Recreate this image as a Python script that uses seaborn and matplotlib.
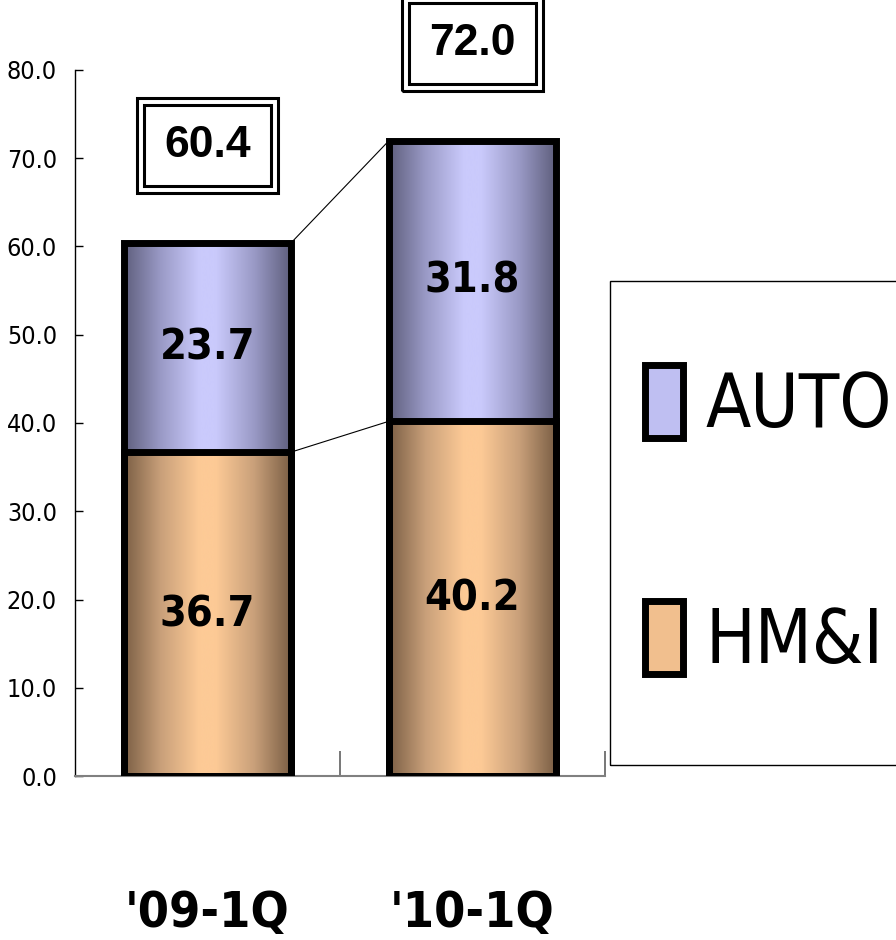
import numpy as np
import pandas as pd
import matplotlib
matplotlib.use("Agg")
import matplotlib.pyplot as plt
import seaborn as sns
from matplotlib.colors import LinearSegmentedColormap
from matplotlib.patches import Patch, Rectangle
from matplotlib.transforms import IdentityTransform

# ---------------- data ----------------
categories = ["'09-1Q", "'10-1Q"]
hmi_values = [36.7, 40.2]
auto_values = [23.7, 31.8]
total_values = [60.4, 72.0]
series_labels = ["AUTO", "HM&I"]
y_ticks = [0, 10, 20, 30, 40, 50, 60, 70, 80]
y_tick_labels = ["0.0", "10.0", "20.0", "30.0", "40.0", "50.0", "60.0", "70.0", "80.0"]

# ---------------- style ----------------
sns.set_theme(style="white")
plt.rcParams["font.family"] = ["DejaVu Sans"]
plt.rcParams["font.stretch"] = "condensed"
for k in ["text.color", "axes.labelcolor", "xtick.color", "ytick.color"]:
    plt.rcParams[k] = "black"

W, H = 896, 940
fig = plt.figure(figsize=(W / 100, H / 100), dpi=100)
ax = fig.add_axes([75 / W, 1 - 776 / H, 530 / W, 706 / H])

df = pd.DataFrame({"cat": categories, "HM&I": hmi_values,
                   "AUTO": auto_values, "total": total_values})

bar_w = 0.63
edge_lw = 5
# full stack (AUTO colour) then HM&I on top
sns.barplot(data=df, x="cat", y="total", ax=ax, width=bar_w, color="#cacafc",
            edgecolor="black", linewidth=edge_lw, zorder=3)
sns.barplot(data=df, x="cat", y="HM&I", ax=ax, width=bar_w, color="#fdca96",
            edgecolor="black", linewidth=edge_lw, zorder=3)

total_patches = ax.patches[:2]
hmi_patches = ax.patches[2:4]

cm_blue = LinearSegmentedColormap.from_list(
    "b", [(0, "#5f5f7d"), (0.22, "#9a9ac6"), (0.45, "#cacafc"),
          (0.55, "#cacafc"), (0.78, "#9a9ac6"), (1, "#5f5f7d")])
cm_orange = LinearSegmentedColormap.from_list(
    "o", [(0, "#7b5f45"), (0.22, "#c9a07a"), (0.45, "#fdca96"),
          (0.55, "#fdca96"), (0.78, "#c9a07a"), (1, "#7b5f45")])
grad = np.linspace(0, 1, 256).reshape(1, -1)

for patches, cmap, z in [(total_patches, cm_blue, 1), (hmi_patches, cm_orange, 2)]:
    for p in patches:
        x0, y0 = p.get_x(), p.get_y()
        w, h = p.get_width(), p.get_height()
        im = ax.imshow(grad, cmap=cmap, aspect="auto",
                       extent=[x0, x0 + w, y0, y0 + h], zorder=z, interpolation="bicubic")
        im.set_clip_path(p)
        p.set_facecolor("none")

ax.set_xlim(-0.5, 1.5)
ax.set_ylim(0, 80)

# segment labels
seg_kw = dict(ha="center", va="center", fontsize=31, fontweight="bold",
              color="black", zorder=5, fontstretch="condensed")
for i, p in enumerate(hmi_patches):
    cx = p.get_x() + p.get_width() / 2
    ax.text(cx, hmi_values[i] / 2, f"{hmi_values[i]:.1f}", **seg_kw)
    ax.text(cx, hmi_values[i] + auto_values[i] / 2, f"{auto_values[i]:.1f}", **seg_kw)

# connector lines
p0, p1 = total_patches
ax.plot([p0.get_x() + p0.get_width(), p1.get_x()], [total_values[0], total_values[1]],
        color="black", lw=0.8, zorder=4)
ax.plot([p0.get_x() + p0.get_width(), p1.get_x()], [hmi_values[0], hmi_values[1]],
        color="black", lw=0.8, zorder=4)

# total labels with double border
total_texts = []
for i, p in enumerate(total_patches):
    cx = p.get_x() + p.get_width() / 2
    t = ax.annotate(f"{total_values[i]:.1f}", xy=(cx, total_values[i]), xytext=(0, 70),
                    textcoords="offset points", ha="center", va="center",
                    fontsize=32, fontweight="bold", family=["Liberation Sans", "DejaVu Sans"],
                    fontstretch="normal",
                    color="black", annotation_clip=False, zorder=6,
                    bbox=dict(boxstyle="square,pad=0.45", fc="white", ec="black", lw=2.2))
    total_texts.append(t)

# axes styling
sns.despine(ax=ax, top=True, right=True)
ax.spines["left"].set_color("black")
ax.spines["left"].set_linewidth(1.0)
ax.spines["bottom"].set_color("#808080")
ax.spines["bottom"].set_linewidth(1.5)
ax.set_yticks(y_ticks)
ax.set_yticklabels(y_tick_labels, fontstretch="condensed")
ax.tick_params(axis="y", direction="in", length=6, width=1, color="black",
               labelsize=18, pad=13, left=True, labelcolor="black")
ax.set_xticks([0, 1])
ax.set_xticklabels(categories, fontsize=36, fontweight="bold", color="black",
                   fontstretch="condensed")
ax.tick_params(axis="x", length=0, pad=81)
ax.set_xticks([0.5, 1.5], minor=True)
ax.tick_params(axis="x", which="minor", direction="in", length=18, width=1.2,
               color="#606060", bottom=True)
ax.set_xlabel("")
ax.set_ylabel("")
ax.grid(False)

# legend
fig.add_artist(Rectangle((610 / W, 1 - 765 / H), 0.5, (765 - 281) / H,
                         transform=fig.transFigure, fill=False, ec="black", lw=1.0))
handles = [Patch(facecolor="#bfbff2", edgecolor="black", linewidth=5),
           Patch(facecolor="#f1bf8e", edgecolor="black", linewidth=5)]
fig.legend(handles, series_labels, loc="center left",
           bbox_to_anchor=(645 / W, 1 - 522 / H), frameon=False, borderpad=0,
           borderaxespad=0, prop={"family": ["DejaVu Sans"], "size": 53,
                                  "stretch": "condensed"},
           handlelength=0.52, handleheight=1.15, handletextpad=0.3, labelspacing=2.15,
           labelcolor="black")

# outer border of total label boxes
fig.canvas.draw()
r = fig.canvas.get_renderer()
for t in total_texts:
    bb = t.get_bbox_patch().get_window_extent(r)
    g = 7
    fig.add_artist(Rectangle((bb.x0 - g, bb.y0 - g), bb.width + 2 * g, bb.height + 2 * g,
                             transform=IdentityTransform(), fill=False, ec="black", lw=2.2))

fig.savefig("out.png", dpi=100)
